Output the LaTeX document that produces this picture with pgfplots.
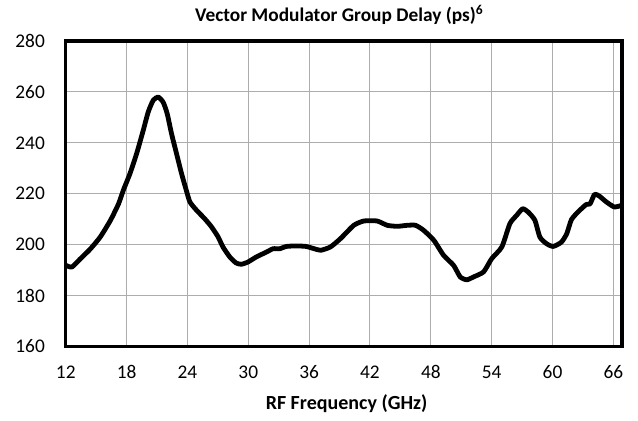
\documentclass[border=0pt]{standalone}
\usepackage{pgfplots}
\pgfplotsset{compat=1.18}
\usepackage{fontspec}
\setmainfont{Carlito}
\begin{document}
\begin{tikzpicture}
\begin{axis}[
  scale only axis,
  width=417pt, height=229pt,
  xmin=12, xmax=66.85, ymin=160, ymax=280,
  xtick={12,18,...,66}, ytick={160,180,...,280},
  tick style={draw=none},
  grid=major,
  major grid style={draw=black!32, line width=0.75pt},
  axis line style={line width=2.5pt},
  /pgf/number format/assume math mode=true,
  tick label style={font=\fontsize{14.5}{16}\selectfont},
  xticklabel style={anchor=base, yshift=-24.2pt},
  yticklabel style={anchor=east, inner sep=0pt, xshift=-15.5pt},
  title={\textbf{Vector Modulator Group Delay (ps)\textsuperscript{6}}},
  title style={font=\fontsize{14.5}{16}\selectfont, at={(0.5,1)}, anchor=base, yshift=9pt, xshift=-3.5pt},
  xlabel={\textbf{RF Frequency (GHz)}},
  xlabel style={font=\fontsize{15}{17}\selectfont, at={(0.5,0)}, anchor=base, yshift=-47pt, xshift=2pt},
  clip=false,
]
\addplot[black, line width=3.6pt, line join=round, smooth, tension=0.35] table {
12 191.9
12.6 191.2
13.4 194.3
14.4 198.2
15.4 203
16.4 209.5
17.2 216
17.7 221.6
18.33 227.9
18.99 235.8
19.64 244.9
20.13 252.1
20.62 256.7
21.11 258.0
21.6 256.0
22.0 251.5
22.43 243.6
22.92 235.8
23.42 227.9
23.84 222.0
24.24 216.8
24.9 213.5
25.7 210.2
26.37 207
27.03 203
27.5 199.1
28.17 195.2
28.8 192.8
29.32 192.3
29.98 193.2
30.8 195.2
31.8 197.1
32.44 198.4
33.1 198.4
33.75 199.3
34.74 199.5
35.7 199.3
36.5 198.4
37.15 197.8
38.1 199.1
39.1 202.4
40.4 207.6
41.4 209.3
42.7 209.3
43.7 207.6
44.7 207.2
45.66 207.6
46.5 207.6
47.3 205.6
48.3 201.7
49.26 195.8
50.24 191.9
50.9 187.3
51.55 186.2
52.2 187.3
53.2 189.3
54.0 194.5
55.0 199.1
55.8 208.3
56.46 211.5
57.05 214.1
57.6 212.8
58.26 209.6
58.75 203
59.4 200.4
60.06 199.3
60.88 201
61.4 204.3
61.86 209.8
62.5 212.8
63.33 215.8
63.7 216
64.15 219.8
64.64 219
65.3 216.8
66.1 214.8
66.85 215.5
};
\coordinate (bl) at (rel axis cs:0,0);
\coordinate (tr) at (rel axis cs:1,1);
\end{axis}
\pgfresetboundingbox
\path[use as bounding box] (bl) ++(-49.3pt,-55.7pt) coordinate (a) (tr) ++(12pt,30.75pt) coordinate (b);
\path[use as bounding box] (a) rectangle (b);
\end{tikzpicture}
\end{document}
